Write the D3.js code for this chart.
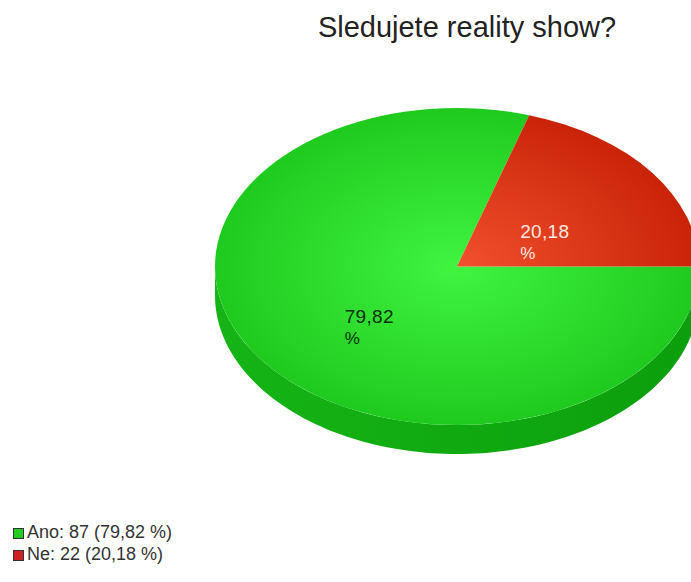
<!DOCTYPE html>
<html><head><meta charset="utf-8">
<script src="https://cdn.jsdelivr.net/npm/d3@7"></script>
<style>body{margin:0;background:#fff}svg{display:block}text{font-family:"Liberation Sans",Arial,sans-serif}</style>
</head><body>
<svg id="chart" width="691" height="582"></svg>
<script>
const title = "Sledujete reality show?";
const categories = ["Ano", "Ne"];
const counts = [87, 22];
const percents = ["79,82", "20,18"];
const topColors = [["#40f440", "#1fca1f"], ["#f2502e", "#c92408"]];
const legendColors = ["#22cc22", "#cc2222"];

const W = 691, H = 582;
const cx = 457, cy = 266.5, rx = 242, ry = 158.5, depth = 29;
const k = ry / rx;
const svg = d3.select("#chart");
const defs = svg.append("defs");

const pie = d3.pie().sort(null).startAngle(Math.PI / 2).endAngle(Math.PI / 2 + 2 * Math.PI);
const arcs = pie(counts);
const arc = d3.arc().innerRadius(0).outerRadius(rx);

// side wall (front half)
const side = d3.path();
const N = 120;
for (let i = 0; i <= N; i++) {
  const t = Math.PI * i / N;
  const x = cx + rx * Math.cos(t), y = cy + ry * Math.sin(t);
  if (i === 0) side.moveTo(x, y); else side.lineTo(x, y);
}
for (let i = N; i >= 0; i--) {
  const t = Math.PI * i / N;
  side.lineTo(cx + rx * Math.cos(t), cy + ry * Math.sin(t) + depth);
}
side.closePath();
const sg = defs.append("linearGradient").attr("id", "sideG").attr("x1", 0).attr("x2", 1).attr("y1", 0).attr("y2", 0);
sg.append("stop").attr("offset", 0).attr("stop-color", "#16b416");
sg.append("stop").attr("offset", 0.5).attr("stop-color", "#10aa10");
sg.append("stop").attr("offset", 1).attr("stop-color", "#0c9e0c");
svg.append("path").attr("d", side.toString()).attr("fill", "url(#sideG)");

// top face
const g = svg.append("g").attr("transform", `translate(${cx},${cy}) scale(1,${k})`);
arcs.forEach((a, i) => {
  const rg = defs.append("radialGradient").attr("id", "tg" + i)
    .attr("gradientUnits", "userSpaceOnUse").attr("cx", 0).attr("cy", 0).attr("r", rx).attr("fx", 0).attr("fy", 0);
  rg.append("stop").attr("offset", 0).attr("stop-color", topColors[i][0]);
  rg.append("stop").attr("offset", 1).attr("stop-color", topColors[i][1]);
  g.append("path").attr("d", arc(a)).attr("fill", `url(#tg${i})`);
});

// labels
const labelColors = ["#0b300b", "#ffe8e0"];
arcs.forEach((a, i) => {
  const mid = (a.startAngle + a.endAngle) / 2;
  const px = cx + rx * 0.45 * Math.sin(mid);
  const py = cy - ry * 0.45 * Math.cos(mid);
  const t1 = svg.append("text").attr("font-size", 19).attr("fill", labelColors[i])
    .attr("letter-spacing", 0.3).text(percents[i]);
  const w = t1.node().getComputedTextLength();
  const x0 = px - w / 2;
  t1.attr("x", x0).attr("y", py + 14);
  svg.append("text").attr("font-size", 17).attr("fill", labelColors[i])
    .attr("x", x0).attr("y", py + 35).text("%");
});

// title
svg.append("text").attr("x", 467).attr("y", 37).attr("text-anchor", "middle")
  .attr("font-size", 29).attr("fill", "#222").text(title);

// legend
categories.forEach((c, i) => {
  const y = 528 + i * 22;
  svg.append("rect").attr("x", 13.5).attr("y", y + 0.5).attr("width", 10).attr("height", 10)
    .attr("fill", legendColors[i]).attr("stroke", "#333").attr("stroke-width", 1);
  svg.append("text").attr("x", 27).attr("y", y + 10).attr("font-size", 18).attr("fill", "#333")
    .text(`${c}: ${counts[i]} (${percents[i]} %)`);
});
</script>
</body></html>
